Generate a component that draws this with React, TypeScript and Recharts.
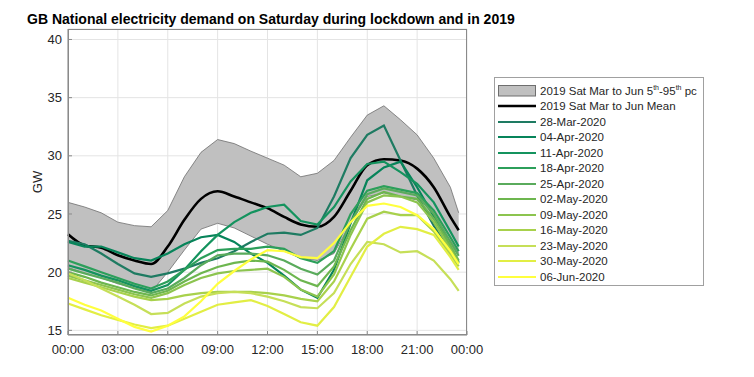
import React from 'react'
import { ComposedChart, Line, Area, XAxis, YAxis, CartesianGrid } from 'recharts'

// hour of day (last point is 23:30)
const hours = [0, 1, 2, 3, 4, 5, 6, 7, 8, 9, 10, 11, 12, 13, 14, 15, 16, 17, 18, 19, 20, 21, 22, 23, 23.5]

// 2019 Saturday band, Mar to Jun
const pc5 = [20.4, 19.9, 19.5, 19.0, 18.6, 18.3, 20.0, 21.9, 23.7, 24.2, 23.8, 23.1, 22.4, 21.8, 21.2, 21.0, 21.6, 24.2, 26.5, 26.8, 26.5, 26.2, 24.5, 22.7, 21.6]
const pc95 = [26.0, 25.6, 25.1, 24.3, 24.0, 23.9, 25.3, 28.2, 30.3, 31.4, 31.05, 30.4, 29.8, 29.2, 28.2, 28.5, 29.6, 31.6, 33.5, 34.3, 33.1, 31.8, 29.8, 27.3, 25.1]
const mean2019 = [23.26, 22.3, 22.1, 21.45, 21.0, 20.7, 22.2, 24.5, 26.3, 26.95, 26.5, 26.0, 25.5, 24.75, 24.1, 23.9, 24.75, 27.0, 29.2, 29.7, 29.6, 28.9, 27.3, 24.75, 23.6]

// lockdown Saturdays 2020
const mar28 = [22.7, 22.4, 21.6, 20.7, 19.9, 19.6, 19.9, 20.3, 20.8, 21.2, 21.8, 22.6, 23.3, 23.4, 23.2, 23.8, 26.5, 29.8, 31.8, 32.6, 29.6, 26.6, 24.0, 21.7, 20.9]
const apr04 = [22.6, 22.2, 22.2, 21.7, 21.2, 21.0, 21.6, 22.4, 23.0, 23.2, 22.6, 21.6, 20.8, 19.7, 18.5, 17.8, 20.2, 24.2, 27.9, 29.0, 29.5, 27.3, 24.8, 22.2, 20.8]
const apr11 = [20.6, 20.2, 19.7, 19.3, 18.8, 18.4, 18.9, 20.2, 21.8, 23.2, 24.3, 25.1, 25.6, 25.8, 24.4, 24.1, 25.6, 27.8, 29.3, 29.5, 28.6, 27.6, 26.0, 23.5, 22.2]
const apr18 = [21.0, 20.5, 20.0, 19.5, 19.0, 18.6, 19.2, 20.2, 21.2, 21.9, 22.0, 22.0, 22.2, 22.0, 21.2, 20.8, 21.8, 25.0, 27.0, 27.4, 27.1, 26.8, 25.3, 23.0, 21.8]
const apr25 = [20.3, 19.9, 19.5, 19.1, 18.6, 18.2, 18.6, 19.5, 20.6, 21.45, 21.6, 21.6, 21.45, 21.0, 20.3, 19.8, 21.0, 24.3, 26.7, 27.2, 26.9, 26.6, 25.0, 22.6, 21.4]
const may02 = [20.0, 19.6, 19.1, 18.7, 18.3, 18.0, 18.4, 19.2, 19.9, 20.45, 20.8, 21.0, 20.9, 20.2, 19.3, 18.8, 20.5, 23.6, 26.3, 26.9, 26.5, 26.3, 24.6, 22.3, 21.0]
const may09 = [19.7, 19.3, 18.9, 18.5, 18.1, 17.8, 18.2, 18.9, 19.5, 19.9, 20.1, 20.2, 20.3, 19.6, 18.5, 17.9, 19.8, 23.2, 26.0, 26.6, 26.5, 26.0, 24.3, 22.0, 20.8]
const may16 = [19.5, 19.1, 18.7, 18.3, 17.9, 17.6, 17.7, 18.0, 18.2, 18.3, 18.3, 18.3, 18.2, 18.0, 17.7, 17.5, 19.2, 22.0, 24.6, 25.2, 24.9, 24.9, 23.5, 21.5, 20.5]
const may23 = [19.9, 19.3, 18.6, 17.9, 17.2, 16.4, 16.5, 17.3, 17.9, 18.2, 18.3, 18.2, 17.9, 17.5, 17.0, 16.9, 18.2, 20.7, 22.6, 22.4, 21.7, 21.8, 21.0, 19.4, 18.4]
const may30 = [17.3, 16.8, 16.3, 15.9, 15.5, 15.2, 15.4, 16.0, 16.6, 17.2, 17.4, 17.6, 17.1, 16.4, 15.7, 15.4, 17.0, 19.6, 22.2, 23.3, 23.9, 23.7, 23.2, 21.3, 20.2]
const jun06 = [17.8, 17.2, 16.7, 16.0, 15.3, 14.9, 15.4, 16.2, 17.5, 19.0, 20.1, 21.1, 21.9, 21.8, 21.3, 21.2, 22.5, 24.3, 25.7, 25.9, 25.6, 24.9, 23.7, 21.8, 20.7]

const days = [
  { key: 'mar28', name: '28-Mar-2020', values: mar28, color: '#1e7b62' },
  { key: 'apr04', name: '04-Apr-2020', values: apr04, color: '#07845a' },
  { key: 'apr11', name: '11-Apr-2020', values: apr11, color: '#14935e' },
  { key: 'apr18', name: '18-Apr-2020', values: apr18, color: '#2c9f5a' },
  { key: 'apr25', name: '25-Apr-2020', values: apr25, color: '#5aab5c' },
  { key: 'may02', name: '02-May-2020', values: may02, color: '#6db64f' },
  { key: 'may09', name: '09-May-2020', values: may09, color: '#8cc44f' },
  { key: 'may16', name: '16-May-2020', values: may16, color: '#a8d14c' },
  { key: 'may23', name: '23-May-2020', values: may23, color: '#c6df58' },
  { key: 'may30', name: '30-May-2020', values: may30, color: '#e2ee44' },
  { key: 'jun06', name: '06-Jun-2020', values: jun06, color: '#ffff3e' },
]

const xTicks = [0, 3, 6, 9, 12, 15, 18, 21, 24]
const yTicks = [15, 20, 25, 30, 35, 40]

const data = hours.map((h, i) => {
  const row: any = { h, band: [pc5[i], pc95[i]], mean: mean2019[i] }
  days.forEach((d) => { row[d.key] = d.values[i] })
  return row
})

const fmtHour = (h: number) => `${String(h % 24).padStart(2, '0')}:00`

const txt = '#262626'

const App: React.FC = () => {
  return (
    <div style={{ position: 'absolute', left: 0, top: 0, width: 754, height: 377, background: '#fff', fontFamily: '"Liberation Sans", Arial, sans-serif' }}>
      <ComposedChart width={754} height={377} data={data} margin={{ top: 29, right: 287, bottom: 12, left: 28 }}>
        <CartesianGrid stroke="#e4e4e4" />
        <XAxis
          type="number"
          dataKey="h"
          domain={[0, 24]}
          ticks={xTicks}
          tickFormatter={fmtHour}
          height={30}
          stroke="#8a8a8a"
          tickSize={-4}
          tickMargin={14}
          tick={{ fill: txt, fontSize: 13 }}
        />
        <YAxis
          domain={[14.6, 40.9]}
          ticks={yTicks}
          allowDataOverflow
          width={40}
          stroke="#8a8a8a"
          tickSize={-4}
          tickMargin={10}
          tick={{ fill: txt, fontSize: 13 }}
        />
        <Area
          dataKey="band"
          type="linear"
          fill="#c0c0c0"
          fillOpacity={1}
          stroke="#6e6e6e"
          strokeWidth={0.8}
          isAnimationActive={false}
        />
        <Line dataKey="mean" type="monotone" stroke="#000" strokeWidth={2.6} dot={false} isAnimationActive={false} />
        {days.map((d) => (
          <Line key={d.key} dataKey={d.key} type="linear" stroke={d.color} strokeWidth={2.2} dot={false} isAnimationActive={false} />
        ))}
      </ComposedChart>

      {/* plot box */}
      <div style={{ position: 'absolute', left: 68, top: 29, width: 399, height: 306, border: '1px solid #8a8a8a', boxSizing: 'border-box', pointerEvents: 'none' }} />

      <div style={{ position: 'absolute', left: 27, top: 11, fontSize: 14, lineHeight: '16px', fontWeight: 'bold', color: '#000', whiteSpace: 'nowrap' }}>
        GB National electricity demand on Saturday during lockdown and in 2019
      </div>

      <div style={{ position: 'absolute', left: 37, top: 182, fontSize: 13, color: txt, transform: 'translate(-50%, -50%) rotate(-90deg)' }}>GW</div>

      {/* legend */}
      <div style={{ position: 'absolute', left: 494, top: 77, width: 210, height: 209, border: '1px solid #a0a0a0', boxSizing: 'border-box', paddingTop: 5, fontSize: 11.5, color: txt }}>
        <div style={{ display: 'flex', alignItems: 'center', height: 15.5, whiteSpace: 'nowrap' }}>
          <svg width={42} height={14} style={{ marginLeft: 3, flex: 'none' }}>
            <rect x={0.5} y={1.5} width={37} height={10.5} fill="#c0c0c0" stroke="#6e6e6e" strokeWidth={1} />
          </svg>
          <span>2019 Sat Mar to Jun 5<sup style={{ fontSize: 7 }}>th</sup>-95<sup style={{ fontSize: 7 }}>th</sup> pc</span>
        </div>
        <div style={{ display: 'flex', alignItems: 'center', height: 15.5, whiteSpace: 'nowrap' }}>
          <svg width={42} height={14} style={{ marginLeft: 3, flex: 'none' }}>
            <line x1={0} x2={38} y1={7} y2={7} stroke="#000" strokeWidth={2.6} />
          </svg>
          <span>2019 Sat Mar to Jun Mean</span>
        </div>
        {days.map((d) => (
          <div key={d.key} style={{ display: 'flex', alignItems: 'center', height: 15.5, whiteSpace: 'nowrap' }}>
            <svg width={42} height={14} style={{ marginLeft: 3, flex: 'none' }}>
              <line x1={0} x2={38} y1={7} y2={7} stroke={d.color} strokeWidth={2.2} />
            </svg>
            <span>{d.name}</span>
          </div>
        ))}
      </div>
    </div>
  )
}

export default App
